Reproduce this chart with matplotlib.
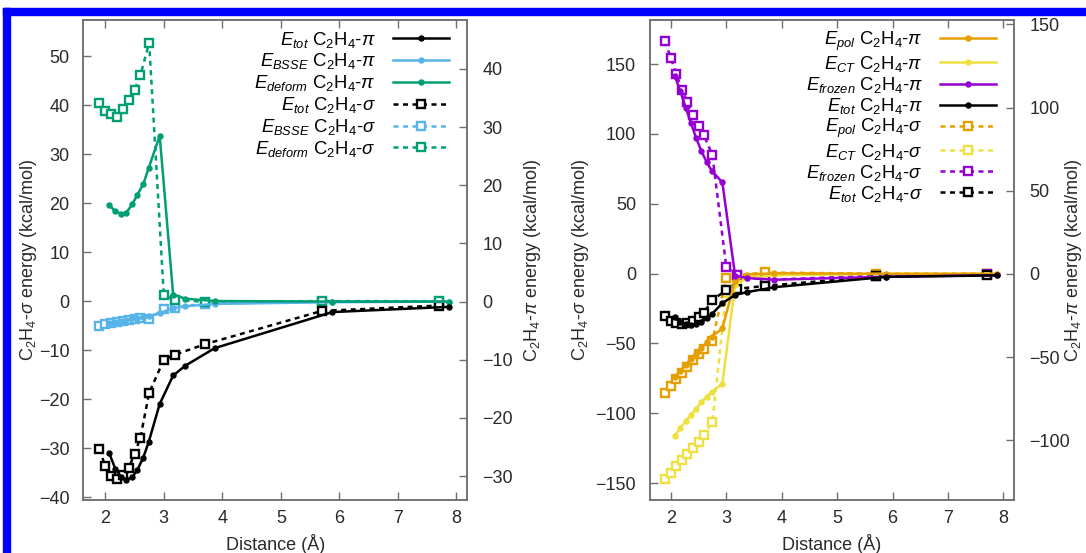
import matplotlib
matplotlib.use('Agg')
import matplotlib.pyplot as plt
from matplotlib.patches import Rectangle

plt.rcParams['font.family'] = ['Liberation Sans', 'DejaVu Sans']
plt.rcParams['mathtext.fontset'] = 'custom'
plt.rcParams['mathtext.rm'] = 'Liberation Sans'
plt.rcParams['mathtext.it'] = 'Liberation Sans:italic'
plt.rcParams['mathtext.bf'] = 'Liberation Sans:bold'
plt.rcParams['mathtext.sf'] = 'Liberation Sans'

# ---------------- data ----------------
dist_sigma = [1.9, 2.0, 2.1, 2.2, 2.3, 2.4, 2.5, 2.6, 2.75, 3.0, 3.2, 3.7, 5.7, 7.7]
dist_pi = [2.07, 2.17, 2.27, 2.36, 2.46, 2.55, 2.65, 2.74, 2.93, 3.16, 3.37, 3.87, 5.88, 7.88]

etot_sigma = [-30.2, -33.7, -35.7, -36.3, -35.5, -34.1, -31.2, -27.9, -18.7, -12.0, -10.9, -8.8, -2.0, -0.9]
etot_pi = [-26.1, -28.7, -30.2, -30.6, -30.2, -28.9, -26.8, -24.2, -17.6, -12.7, -11.0, -8.0, -1.8, -0.9]
ebsse_sigma = [-5.0, -4.7, -4.5, -4.2, -4.0, -3.8, -3.6, -3.4, -3.6, -1.6, -1.3, -0.5, -0.1, -0.1]
ebsse_pi = [-3.7, -3.5, -3.3, -3.1, -2.9, -2.8, -2.6, -2.5, -2.0, -1.1, -0.8, -0.4, -0.1, 0.0]
edeform_sigma = [40.5, 38.8, 38.3, 37.6, 39.3, 41.0, 43.2, 46.1, 52.8, 1.2, 0.2, -0.1, 0.0, 0.0]
edeform_pi = [16.6, 15.5, 15.1, 15.3, 16.7, 18.4, 20.2, 22.9, 28.5, 1.2, 0.5, 0.1, 0.0, 0.0]

epol_sigma = [-85.5, -80.3, -75.7, -71.4, -66.7, -61.9, -57.9, -54.3, -48.0, -3.0, -1.0, 0.8, 0.0, 0.0]
epol_pi = [-62.2, -58.4, -54.6, -51.2, -47.9, -44.5, -41.2, -37.8, -32.8, -4.2, -0.4, 0.4, 0.0, 0.0]
ect_sigma = [-147.1, -142.9, -138.1, -133.4, -129.3, -125.0, -120.3, -115.5, -106.0, -14.0, -3.0, -1.0, 0.0, 0.0]
ect_pi = [-97.4, -92.8, -88.6, -84.8, -81.0, -77.3, -73.9, -71.0, -66.0, -6.7, -2.5, -0.8, 0.0, 0.0]
efrozen_sigma = [166.3, 154.1, 143.0, 131.3, 122.9, 113.3, 105.5, 98.9, 84.8, 5.0, -1.3, -4.5, -1.5, -0.5]
efrozen_pi = [119.3, 110.0, 100.0, 91.0, 81.5, 74.0, 67.0, 62.0, 55.0, -1.0, -2.5, -3.5, -1.7, -0.8]

x_ticks = [2, 3, 4, 5, 6, 7, 8]
left_sigma_ticks = [-40, -30, -20, -10, 0, 10, 20, 30, 40, 50]
left_pi_ticks = [-30, -20, -10, 0, 10, 20, 30, 40]
right_sigma_ticks = [-150, -100, -50, 0, 50, 100, 150]
right_pi_ticks = [-100, -50, 0, 50, 100, 150]

# ---------------- style ----------------
C_BLACK = '#000000'
C_BLUE = '#56B4E9'
C_GREEN = '#009E73'
C_ORANGE = '#E69F00'
C_YELLOW = '#EEE040'
C_PURPLE = '#9400D3'
SPINE = '#707070'
TXT = '#2a2a2a'
FS = 13
LFS = 13.3

W, H = 1086, 553
fig = plt.figure(figsize=(W / 100, H / 100), dpi=100)

# blue frame lines (top and left)
fig.patches.append(Rectangle((3 / W, 1 - 15 / H), 1 - 3 / W, 7 / H, transform=fig.transFigure,
                             color='#0000FF', zorder=0))
fig.patches.append(Rectangle((3 / W, 0), 7 / W, 1 - 8 / H, transform=fig.transFigure,
                             color='#0000FF', zorder=0))

ax1 = fig.add_axes([83.3 / W, 1 - 500 / H, (467 - 83.3) / W, 480 / H])
ax2 = ax1.twinx()
ax3 = fig.add_axes([650 / W, 1 - 500 / H, (1014 - 650) / W, 480 / H])
ax4 = ax3.twinx()


def sig_line(ax, x, y, c, label):
    return ax.plot(x, y, color=c, lw=1.8, ls=(0, (2.0, 1.8)), marker='s', ms=5.6,
                   mfc='white', mec=c, mew=1.7, label=label)[0]


def pi_line(ax, x, y, c, label):
    return ax.plot(x, y, color=c, lw=1.8, ls='-', marker='o', ms=3.6,
                   mfc=c, mec=c, label=label)[0]


def lab(sub, sym):
    return r'$E_{%s}$ C$_2$H$_4$-$%s$' % (sub, sym)


# left panel
h = {}
h['bs_s'] = sig_line(ax1, dist_sigma, ebsse_sigma, C_BLUE, lab('BSSE', r'\sigma'))
h['de_s'] = sig_line(ax1, dist_sigma, edeform_sigma, C_GREEN, lab('deform', r'\sigma'))
h['to_s'] = sig_line(ax1, dist_sigma, etot_sigma, C_BLACK, lab('tot', r'\sigma'))
h['bs_p'] = pi_line(ax2, dist_pi, ebsse_pi, C_BLUE, lab('BSSE', r'\pi'))
h['de_p'] = pi_line(ax2, dist_pi, edeform_pi, C_GREEN, lab('deform', r'\pi'))
h['to_p'] = pi_line(ax2, dist_pi, etot_pi, C_BLACK, lab('tot', r'\pi'))

# right panel
g = {}
g['ct_s'] = sig_line(ax3, dist_sigma, ect_sigma, C_YELLOW, lab('CT', r'\sigma'))
g['po_s'] = sig_line(ax3, dist_sigma, epol_sigma, C_ORANGE, lab('pol', r'\sigma'))
g['fr_s'] = sig_line(ax3, dist_sigma, efrozen_sigma, C_PURPLE, lab('frozen', r'\sigma'))
g['to_s'] = sig_line(ax3, dist_sigma, etot_sigma, C_BLACK, lab('tot', r'\sigma'))
g['ct_p'] = pi_line(ax4, dist_pi, ect_pi, C_YELLOW, lab('CT', r'\pi'))
g['po_p'] = pi_line(ax4, dist_pi, epol_pi, C_ORANGE, lab('pol', r'\pi'))
g['fr_p'] = pi_line(ax4, dist_pi, efrozen_pi, C_PURPLE, lab('frozen', r'\pi'))
g['to_p'] = pi_line(ax4, dist_pi, etot_pi, C_BLACK, lab('tot', r'\pi'))

ax1.set_xlim(1.625, 8.18)
ax3.set_xlim(1.625, 8.19)
ax1.set_ylim(-40.6, 57.4)
ax2.set_ylim(-34.1, 48.4)
ax3.set_ylim(-162.1, 181.6)
ax4.set_ylim(-136.0, 152.7)

ax1.set_yticks(left_sigma_ticks)
ax2.set_yticks(left_pi_ticks)
ax3.set_yticks(right_sigma_ticks)
ax4.set_yticks(right_pi_ticks)
for ax in (ax1, ax3):
    ax.set_xticks(x_ticks)

for ax in (ax1, ax2, ax3, ax4):
    for sp in ax.spines.values():
        sp.set_color(SPINE)
        sp.set_linewidth(1.1)
    ax.tick_params(direction='in', length=6, width=1.0, color=SPINE,
                   labelsize=FS, labelcolor=TXT)
for ax in (ax1, ax3):
    ax.tick_params(axis='x', top=True, bottom=True, pad=7)
    ax.tick_params(axis='y', left=True, right=False, pad=10)
for ax in (ax2, ax4):
    ax.tick_params(axis='y', left=False, right=True, pad=11)

for ax in (ax1, ax3):
    ax.set_xlabel('Distance (Å)', fontsize=FS, color=TXT)
    ax.xaxis.set_label_coords(0.5, -0.07)
    ax.set_ylabel(r'C$_2$H$_4$-$\sigma$ energy (kcal/mol)', fontsize=FS, color=TXT)
for ax in (ax2, ax4):
    ax.set_ylabel(r'C$_2$H$_4$-$\pi$ energy (kcal/mol)', fontsize=FS, color=TXT)

ax1.yaxis.set_label_coords(-0.115, 0.5)
ax2.yaxis.set_label_coords(1.143, 0.5)
ax3.yaxis.set_label_coords(-0.163, 0.5)
ax4.yaxis.set_label_coords(1.135, 0.5)

leg_kw = dict(fontsize=LFS, frameon=False, markerfirst=False, handlelength=3.0,
              handletextpad=0.95, borderpad=0, borderaxespad=0, loc='upper right')
hl = [h['to_p'], h['bs_p'], h['de_p'], h['to_s'], h['bs_s'], h['de_s']]
ax2.legend(hl, [o.get_label() for o in hl], bbox_to_anchor=(0.952, 0.98),
           labelspacing=0.1, **leg_kw)
order = [g['po_p'], g['ct_p'], g['fr_p'], g['to_p'], g['po_s'], g['ct_s'], g['fr_s'], g['to_s']]
ax4.legend(order, [o.get_label() for o in order], bbox_to_anchor=(0.95, 0.98),
           labelspacing=0.06, **leg_kw)

fig.savefig('out.png', dpi=100)
